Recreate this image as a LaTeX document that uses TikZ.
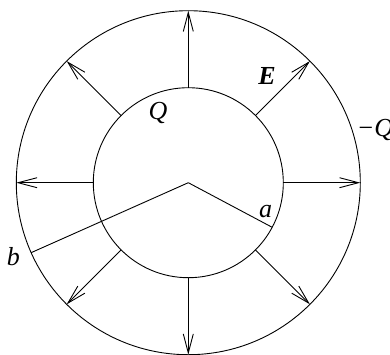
\documentclass[tikz,border=0pt]{standalone}
\usepackage{fontspec}
\setmainfont{Liberation Serif}
\usepackage{tikz}
\usetikzlibrary{arrows.meta}
\tikzset{
  shell/.style={circle,draw,line width=0.9pt,inner sep=0pt,outer sep=0pt},
  fieldarrow/.style={-{Straight Barb[length=19pt,width=10pt,line width=0.9pt]},line width=0.9pt},
  radius/.style={line width=0.9pt},
  lbl/.style={inner sep=0pt,font=\fontsize{26}{30}\selectfont\itshape}
}

\begin{document}
\begin{tikzpicture}[x=1pt,y=1pt]
\useasboundingbox (-188.3,-171.3) rectangle (201.7,182.7);
\coordinate (o) at (0,0);
\node[shell,minimum size=190pt] (inner) at (o) {};
\node[shell,minimum size=344pt] (outer) at (o) {};
\foreach \ang in {0,45,...,315}
  \draw[fieldarrow] (inner.\ang) -- (outer.\ang);
\draw[radius] (o) -- (inner.-28.4);
\draw[radius] (o) -- (outer.204.5);
\node[lbl] (qin) at (-30.3,69.7) {Q};
\node[lbl,font=\fontsize{26}{30}\selectfont\bfseries\itshape] (field) at (78.7,107.2) {E};
\node[lbl,anchor=west] (qout) at (168.4,52.7) {−Q};
\node[lbl] (ra) at (77.4,-29.3) {a};
\node[lbl] (rb) at (-174.8,-73.8) {b};
\end{tikzpicture}
\end{document}
